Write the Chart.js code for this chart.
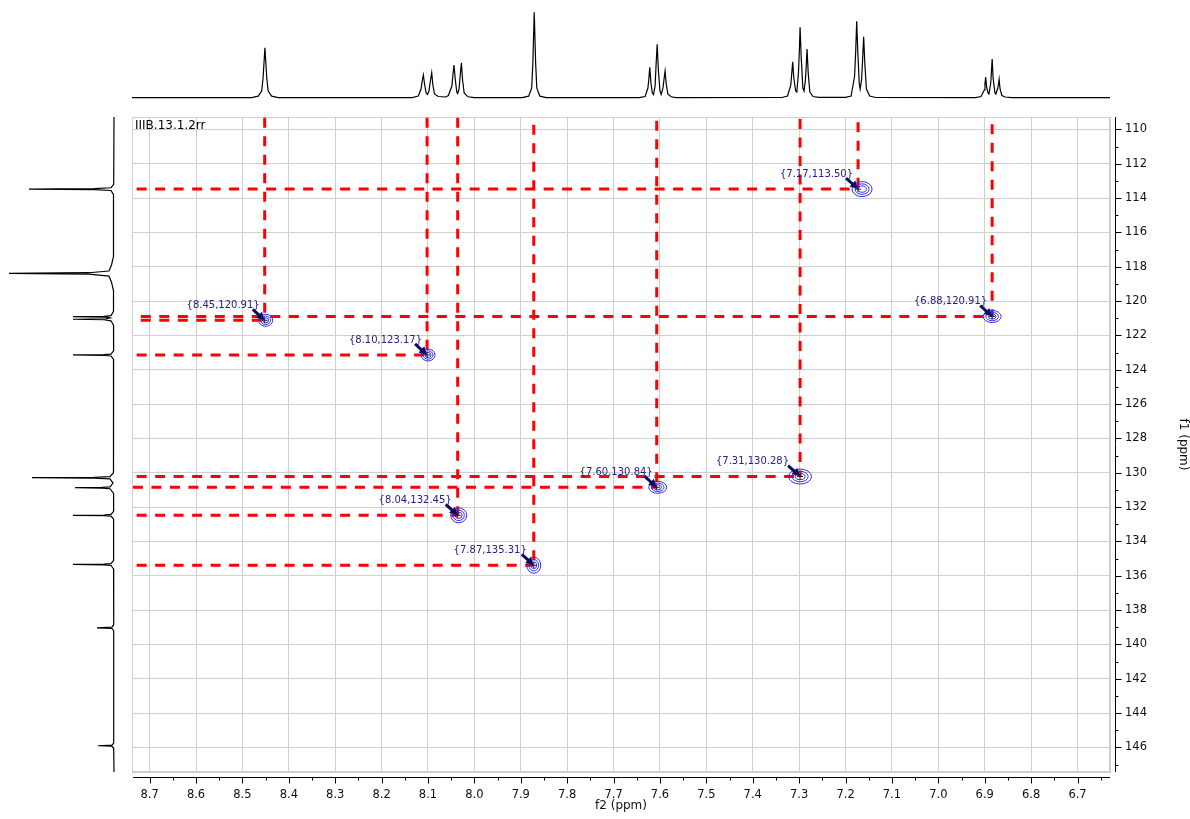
<!DOCTYPE html>
<html>
<head>
<meta charset="utf-8">
<script src="https://cdn.jsdelivr.net/npm/chart.js@4.4.1/dist/chart.umd.min.js"></script>
<style>
  body { margin: 0; background: #fff; }
  #wrap { position: relative; width: 1190px; height: 819px; }
  canvas { position: absolute; }
</style>
</head>
<body>
<div id="wrap">
  <canvas id="main" width="1190" height="819" style="left:0;top:0"></canvas>
  <canvas id="proton" width="978" height="100" style="left:132px;top:0"></canvas>
  <canvas id="carbon" width="120" height="655" style="left:0;top:117px"></canvas>
</div>
<script>
// axis ranges (ppm)
var xMin = 6.630, xMax = 8.738;     // f2, 1H
var yMin = 109.28, yMax = 147.43;   // f1, 13C
var xTicks = [8.7, 8.6, 8.5, 8.4, 8.3, 8.2, 8.1, 8.0, 7.9, 7.8, 7.7, 7.6, 7.5, 7.4, 7.3, 7.2, 7.1, 7.0, 6.9, 6.8, 6.7];
var yTicks = [110, 112, 114, 116, 118, 120, 122, 124, 126, 128, 130, 132, 134, 136, 138, 140, 142, 144, 146];

// cross peaks
var peakLabels = ['{8.45,120.91}', '{8.10,123.17}', '{8.04,132.45}', '{7.87,135.31}', '{7.60,130.84}', '{7.31,130.28}', '{7.17,113.50}', '{6.88,120.91}'];
var peakH = [8.452, 8.102, 8.036, 7.872, 7.607, 7.298, 7.173, 6.884];
var peakC = [121.12, 123.14, 132.48, 135.39, 130.85, 130.22, 113.48, 120.90];
// where the guide lines start (top for f2, left for f1)
var guideTop = [109.32, 109.32, 109.32, 109.73, 109.5, 109.4, 109.58, 109.7];
var guideLeft = [8.719, 8.728, 8.728, 8.728, 8.736, 8.728, 8.728, 8.719];

// 1H trace on top [ppm, intensity]
var topTrace = [
  [8.738, 0.3],
  [8.48, 0.4], [8.466, 1.8], [8.4585, 7], [8.4555, 20], [8.4515, 50.3], [8.4475, 20], [8.4445, 7], [8.437, 1.8], [8.423, 0.4],
  [8.134, 0.4], [8.121, 2], [8.115, 9], [8.1125, 17], [8.110, 23], [8.1075, 14], [8.104, 5], [8.101, 3.5], [8.098, 7], [8.0945, 18], [8.092, 25.3], [8.0895, 13], [8.086, 4], [8.078, 1.5],
  [8.062, 1], [8.056, 2.5], [8.0485, 12], [8.0465, 22], [8.044, 33], [8.0415, 20], [8.038, 6], [8.036, 4.5], [8.033, 9], [8.0305, 23], [8.028, 35.3], [8.0255, 18], [8.022, 5], [8.014, 1.2], [8.0, 0.4],
  [7.897, 0.4], [7.883, 1.8], [7.8765, 10], [7.874, 35], [7.871, 85.7], [7.868, 35], [7.8655, 10], [7.859, 1.8], [7.845, 0.4],
  [7.645, 0.4], [7.632, 1.5], [7.626, 10], [7.624, 19], [7.622, 30.7], [7.6195, 15], [7.6165, 5], [7.614, 3.5], [7.6105, 12], [7.6085, 32], [7.606, 53.7], [7.6035, 28], [7.600, 7], [7.5975, 3.5], [7.5935, 10], [7.5915, 18], [7.589, 27], [7.5865, 14], [7.583, 4], [7.576, 1.2], [7.565, 0.4],
  [7.337, 0.5], [7.325, 2], [7.318, 13], [7.316, 24], [7.314, 36.3], [7.3115, 20], [7.3075, 7], [7.305, 6], [7.3015, 25], [7.2995, 48], [7.298, 70.7], [7.2955, 40], [7.292, 10], [7.2895, 7], [7.2865, 18], [7.2845, 34], [7.283, 49], [7.2805, 25], [7.277, 6], [7.27, 1.5], [7.258, 0.6],
  [7.2, 0.6], [7.188, 2], [7.1805, 22], [7.178, 48], [7.176, 76.7], [7.1735, 45], [7.1705, 15], [7.1685, 9], [7.1655, 18], [7.163, 40], [7.161, 61.3], [7.1585, 35], [7.155, 9], [7.148, 2], [7.135, 0.5],
  [6.92, 0.4], [6.908, 1.5], [6.901, 8], [6.8995, 14], [6.898, 21], [6.896, 11], [6.8925, 4.5], [6.891, 4], [6.887, 15], [6.8855, 27], [6.884, 39], [6.882, 20], [6.878, 5], [6.876, 4], [6.8725, 9], [6.8705, 13.5], [6.869, 18.7], [6.867, 9], [6.863, 2.5], [6.856, 1], [6.842, 0.4],
  [6.630, 0.3]
];

// 13C trace on the left [ppm, intensity]
var sideTrace = [
  [109.28, 0],
  [113.2, 0.3], [113.4, 3], [113.45, 20], [113.48, 85], [113.51, 20], [113.56, 3], [113.8, 0.5],
  [117.4, 0.5], [117.9, 2.5], [118.25, 5], [118.35, 25], [118.39, 105], [118.43, 25], [118.55, 5], [118.9, 2.5], [119.4, 0.5],
  [120.6, 0.5], [120.85, 3], [120.89, 10], [120.91, 41], [120.94, 8], [120.985, 4], [121.03, 8], [121.06, 41], [121.09, 10], [121.15, 3], [121.4, 0.5],
  [122.9, 0.4], [123.09, 3], [123.12, 10], [123.14, 41], [123.17, 10], [123.2, 3], [123.4, 0.4],
  [130.0, 0.5], [130.23, 4], [130.27, 20], [130.29, 82], [130.32, 20], [130.36, 4], [130.6, 1], [130.82, 4], [130.85, 12], [130.87, 39], [130.9, 12], [130.93, 4], [131.2, 0.4],
  [132.25, 0.4], [132.43, 3], [132.46, 10], [132.48, 41], [132.5, 10], [132.53, 3], [132.7, 0.4],
  [135.1, 0.4], [135.29, 3], [135.32, 10], [135.34, 41], [135.37, 10], [135.4, 3], [135.6, 0.4],
  [138.85, 0.3], [138.99, 2], [139.03, 17], [139.07, 2], [139.2, 0.3],
  [145.75, 0.3], [145.87, 2], [145.9, 16], [145.93, 2], [146.05, 0.3],
  [147.43, 0]
];

// contour look per peak (pixels)
var ringRx = [7, 7, 8, 7, 9, 11.5, 10, 9];
var ringRy = [6, 6, 7.5, 8, 6, 7.5, 7.5, 6];
var ringDx = [1, 1, 1, 0, 1, 0, 4, 0];
var labelGap = [5, 5, 6, 7, 4, 11, 5, 5];

var fontFam = "'DejaVu Sans', Verdana, sans-serif";
var gridColor = '#cfcfcf';
var red = '#ff0000';
Chart.defaults.font.family = fontFam;

var guides = [];
for (var i = 0; i < peakH.length; i++) {
    guides.push({
        data: [{x: peakH[i], y: guideTop[i]}, {x: peakH[i], y: peakC[i]}],
        showLine: true, borderColor: red, borderWidth: 3, borderDash: [10, 8.5], pointRadius: 0, borderCapStyle: 'butt'
    });
    guides.push({
        data: [{x: guideLeft[i], y: peakC[i]}, {x: peakH[i], y: peakC[i]}],
        showLine: true, borderColor: red, borderWidth: 3, borderDash: [10, 8.5], pointRadius: 0, borderCapStyle: 'butt'
    });
}

var frame = {
    id: 'frame',
    beforeDatasetsDraw: function(chart) {
        var c = chart.ctx, a = chart.chartArea;
        c.save();
        c.strokeStyle = gridColor;
        c.lineWidth = 1;
        c.strokeRect(a.left + 0.5, a.top + 0.5, a.right - a.left - 1, a.bottom - a.top - 1);
        c.restore();
    },
    afterDraw: function(chart) {
        var c = chart.ctx, a = chart.chartArea, sx = chart.scales.x, sy = chart.scales.y;
        c.save();
        c.strokeStyle = '#000';
        c.lineWidth = 1;
        c.beginPath();
        var yb = a.bottom + 5.5;
        c.moveTo(a.left + 1, yb); c.lineTo(a.right, yb);
        xTicks.forEach(function(v) {
            var p = Math.round(sx.getPixelForValue(v)) + 0.5;
            c.moveTo(p, yb); c.lineTo(p, yb + 6);
            var m = Math.round(sx.getPixelForValue(v - 0.05)) + 0.5;
            c.moveTo(m, yb); c.lineTo(m, yb + 3);
        });
        var xr = a.right + 5.5;
        c.moveTo(xr, a.top); c.lineTo(xr, a.bottom);
        yTicks.forEach(function(v) {
            var p = Math.round(sy.getPixelForValue(v)) + 0.5;
            c.moveTo(xr, p); c.lineTo(xr + 6, p);
            var m = Math.round(sy.getPixelForValue(v + 1)) + 0.5;
            c.moveTo(xr, m); c.lineTo(xr + 3, m);
        });
        c.stroke();
        c.restore();
    }
};

var peakMarks = {
    id: 'peakMarks',
    afterDatasetsDraw: function(chart) {
        var c = chart.ctx, a = chart.chartArea, sx = chart.scales.x, sy = chart.scales.y;
        c.save();
        for (var i = 0; i < peakH.length; i++) {
            var px = sx.getPixelForValue(peakH[i]), py = sy.getPixelForValue(peakC[i]);
            // contour rings
            c.strokeStyle = 'rgb(45,45,255)';
            c.lineWidth = 1;
            [1, 0.7, 0.42].forEach(function(k) {
                c.beginPath();
                c.ellipse(px + ringDx[i], py, ringRx[i] * k, ringRy[i] * k, 0, 0, 2 * Math.PI);
                c.stroke();
            });
            // small cross at the peak
            c.strokeStyle = '#222';
            c.beginPath();
            c.moveTo(px - 3, py); c.lineTo(px + 3, py);
            c.moveTo(px, py - 3); c.lineTo(px, py + 3);
            c.stroke();
            // arrow from the label
            c.strokeStyle = '#0b0b66';
            c.fillStyle = '#0b0b66';
            c.lineWidth = 3;
            c.beginPath();
            c.moveTo(px - 12, py - 11);
            c.lineTo(px - 5, py - 4.6);
            c.stroke();
            c.beginPath();
            c.moveTo(px, py);
            c.lineTo(px - 8.5, py - 2.5);
            c.lineTo(px - 2.8, py - 8.6);
            c.closePath();
            c.fill();
            // label
            c.fillStyle = '#22228c';
            c.font = '10px ' + fontFam;
            c.textAlign = 'right';
            c.textBaseline = 'middle';
            c.fillText(peakLabels[i], px - labelGap[i], py - 15);
        }
        c.fillStyle = '#000';
        c.font = '12px ' + fontFam;
        c.textAlign = 'left';
        c.textBaseline = 'middle';
        c.fillText('IIIB.13.1.2rr', a.left + 3, a.top + 8.5);
        c.restore();
    }
};

new Chart(document.getElementById('main'), {
    type: 'scatter',
    data: { datasets: guides },
    options: {
        responsive: false,
        animation: false,
        layout: { padding: { left: 132, top: 117, right: 0, bottom: 0 } },
        plugins: { legend: { display: false }, tooltip: { enabled: false } },
        scales: {
            x: {
                type: 'linear', position: 'bottom', reverse: true, min: xMin, max: xMax,
                afterBuildTicks: function(s) { s.ticks = xTicks.map(function(v) { return {value: v}; }); },
                afterFit: function(s) { s.height = 47; },
                grid: { color: gridColor, lineWidth: 1, drawTicks: false },
                border: { display: true, color: gridColor },
                ticks: {
                    padding: 16, color: '#111', autoSkip: false, maxRotation: 0,
                    font: { size: 11.5 },
                    callback: function(v) { return v.toFixed(1); }
                },
                title: { display: true, text: 'f2 (ppm)', color: '#111', font: { size: 12 }, padding: { top: 0, bottom: 6 } }
            },
            y: {
                type: 'linear', position: 'right', reverse: true, min: yMin, max: yMax,
                afterBuildTicks: function(s) { s.ticks = yTicks.map(function(v) { return {value: v}; }); },
                afterFit: function(s) { s.width = 80; },
                grid: { color: gridColor, lineWidth: 1, drawTicks: false },
                border: { display: true, color: gridColor },
                ticks: {
                    padding: 15, color: '#111', autoSkip: false,
                    font: { size: 11.5 },
                    callback: function(v) { return String(v); }
                },
                title: { display: true, text: 'f1 (ppm)', color: '#111', font: { size: 12 }, padding: { top: 0, bottom: 0 } }
            }
        }
    },
    plugins: [frame, peakMarks]
});

// 1H projection
new Chart(document.getElementById('proton'), {
    type: 'scatter',
    data: { datasets: [{
        data: topTrace.map(function(p) { return {x: p[0], y: p[1]}; }),
        showLine: true, borderColor: '#000', borderWidth: 1.2, pointRadius: 0, tension: 0
    }] },
    options: {
        responsive: false, animation: false,
        plugins: { legend: { display: false }, tooltip: { enabled: false } },
        scales: {
            x: { type: 'linear', reverse: true, min: xMin, max: xMax, display: false },
            y: { type: 'linear', min: -2, max: 98, display: false }
        }
    }
});

// 13C projection
new Chart(document.getElementById('carbon'), {
    type: 'scatter',
    data: { datasets: [{
        data: sideTrace.map(function(p) { return {x: p[1], y: p[0]}; }),
        showLine: true, borderColor: '#000', borderWidth: 1.2, pointRadius: 0, tension: 0
    }] },
    options: {
        responsive: false, animation: false,
        plugins: { legend: { display: false }, tooltip: { enabled: false } },
        scales: {
            x: { type: 'linear', reverse: true, min: -6, max: 114, display: false },
            y: { type: 'linear', reverse: true, min: yMin, max: yMax, display: false }
        }
    }
});
</script>
</body>
</html>
